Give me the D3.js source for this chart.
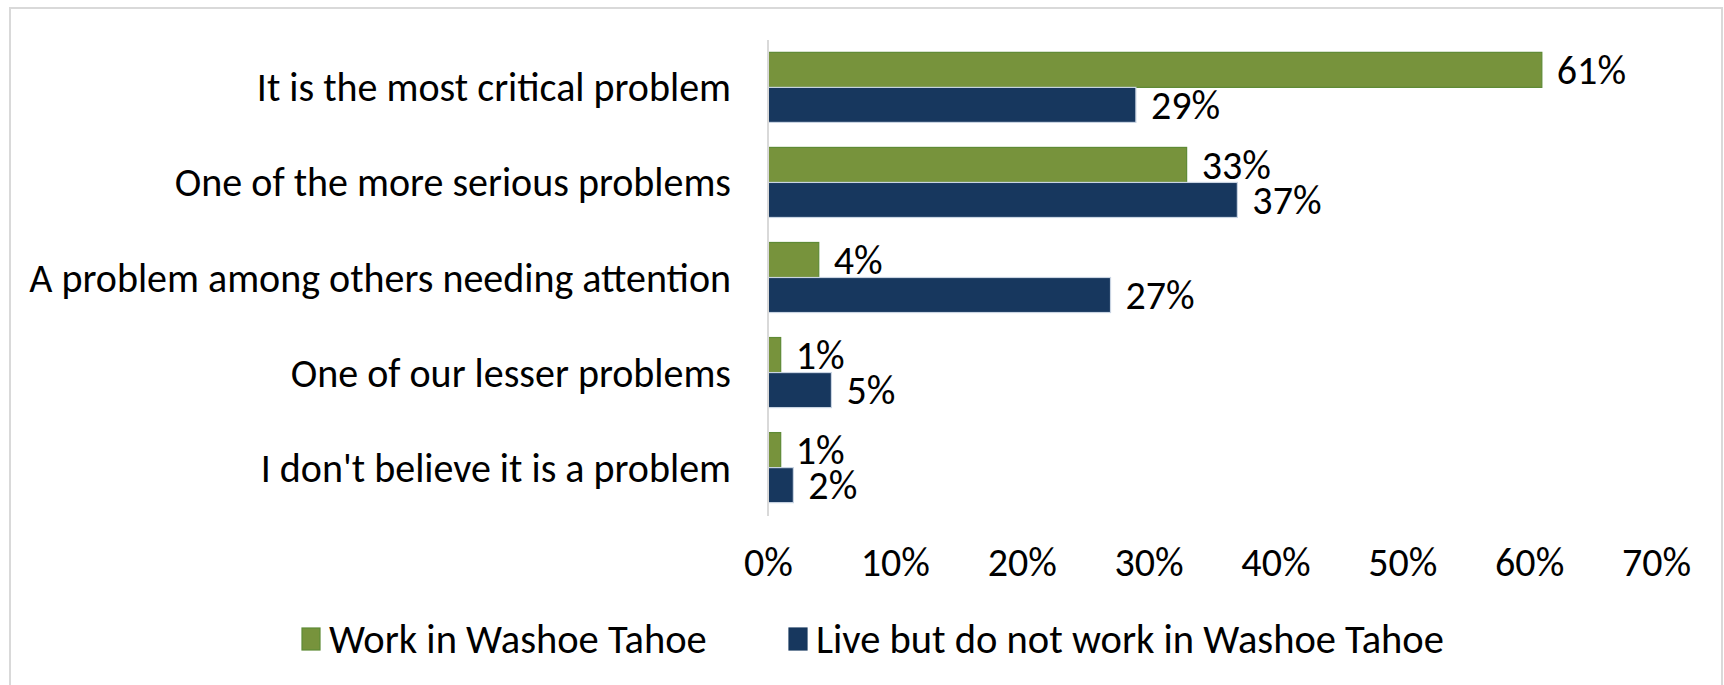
<!DOCTYPE html>
<html>
<head>
<meta charset="utf-8">
<script src="https://cdn.jsdelivr.net/npm/d3@7"></script>
<style>
  html, body { margin: 0; padding: 0; background: #fff; }
  svg { display: block; }
  text { font-family: Carlito, Calibri, Lato, sans-serif; fill: #000; }
</style>
</head>
<body>
<svg id="chart" width="1724" height="685"></svg>
<script>
// Survey responses: how serious a problem is it?
const categories = [
  "It is the most critical problem",
  "One of the more serious problems",
  "A problem among others needing attention",
  "One of our lesser problems",
  "I don't believe it is a problem"
];
const seriesNames = ["Work in Washoe Tahoe", "Live but do not work in Washoe Tahoe"];
const workValues = [61, 33, 4, 1, 1];
const liveValues = [29, 37, 27, 5, 2];
const tickValues = [0, 10, 20, 30, 40, 50, 60, 70];

const colors = { work: "#77933C", workStroke: "#5E8A35", live: "#17375E", liveStroke: "#C9D4E2" };

const rows = categories.map((c, i) => ({
  category: c,
  values: [
    { key: "work", series: seriesNames[0], value: workValues[i] },
    { key: "live", series: seriesNames[1], value: liveValues[i] }
  ]
}));

const svg = d3.select("#chart");
const W = 1724, H = 685;
const fontSize = 40;
const legendFontSize = 40.5;

// chart frame
svg.append("rect")
  .attr("x", 10).attr("y", 8)
  .attr("width", 1712).attr("height", H + 10)
  .attr("fill", "#fff").attr("stroke", "#D9D9D9").attr("stroke-width", 2);

const x = d3.scaleLinear().domain([0, 70]).range([768, 1656]);
const y = d3.scaleBand().domain(categories).range([40, 515])
  .paddingInner(0.263).paddingOuter(0.13);
const ySub = d3.scaleBand().domain(["work", "live"]).range([0, y.bandwidth()]);

// bars
const groups = svg.append("g").selectAll("g").data(rows).join("g")
  .attr("transform", d => `translate(0,${y(d.category)})`);

groups.selectAll("rect").data(d => d.values).join("rect")
  .attr("x", x(0))
  .attr("y", d => ySub(d.key))
  .attr("width", d => x(d.value) - x(0))
  .attr("height", ySub.bandwidth())
  .attr("fill", d => colors[d.key])
  .attr("stroke", d => d.key === "work" ? colors.workStroke : colors.liveStroke)
  .attr("stroke-width", 1.2);

// value labels
groups.selectAll("text.val").data(d => d.values).join("text")
  .attr("class", "val")
  .attr("x", d => x(d.value) + 15)
  .attr("y", d => ySub(d.key) + ySub.bandwidth() / 2)
  .attr("dy", "0.35em")
  .style("font-size", fontSize + "px")
  .text(d => d.value + "%");

// category axis line
svg.append("line")
  .attr("x1", x(0)).attr("x2", x(0))
  .attr("y1", 40).attr("y2", 516)
  .attr("stroke", "#D9D9D9").attr("stroke-width", 2);

// category labels
svg.append("g").selectAll("text").data(categories).join("text")
  .attr("x", 731)
  .attr("y", d => y(d) + y.bandwidth() / 2)
  .attr("dy", "0.35em")
  .attr("text-anchor", "end")
  .style("font-size", fontSize + "px")
  .text(d => d);

// value axis (no line, labels only)
const xAxis = d3.axisBottom(x).tickValues(tickValues).tickSize(0).tickPadding(0)
  .tickFormat(d => d + "%");
const gx = svg.append("g").attr("transform", "translate(0,548)").call(xAxis);
gx.select(".domain").remove();
gx.selectAll("text")
  .attr("dy", "0.71em")
  .style("font-size", fontSize + "px")
  .style("font-family", "Carlito, Calibri, Lato, sans-serif")
  .attr("fill", "#000");

// legend
const legendItems = [
  { name: seriesNames[0], color: colors.work, stroke: colors.workStroke, x: 302 },
  { name: seriesNames[1], color: colors.live, stroke: colors.live, x: 789 }
];
const lg = svg.append("g").selectAll("g").data(legendItems).join("g")
  .attr("transform", d => `translate(${d.x},639)`);
lg.append("rect")
  .attr("x", 0).attr("y", -11)
  .attr("width", 18).attr("height", 22)
  .attr("fill", d => d.color).attr("stroke", d => d.stroke).attr("stroke-width", 1.2);
lg.append("text")
  .attr("x", 27).attr("y", 0).attr("dy", "0.35em")
  .style("font-size", legendFontSize + "px")
  .text(d => d.name);
</script>
</body>
</html>
